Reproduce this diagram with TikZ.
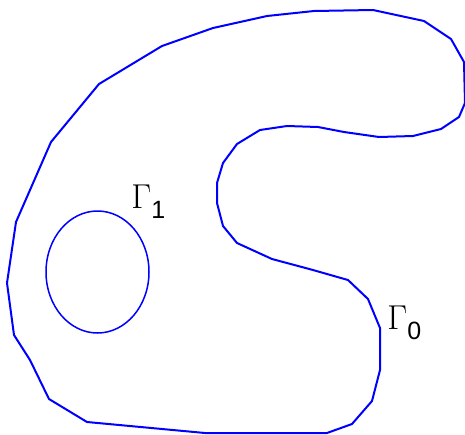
\documentclass[tikz,border=0pt]{standalone}
\usepackage{fontspec}
\setsansfont{Liberation Sans}
\usetikzlibrary{positioning}
\definecolor{bdblue}{HTML}{0000FF}
\newcommand{\sublabel}[1]{\raisebox{-5pt}{\fontsize{12.5}{14}\selectfont\sffamily #1}}
\tikzset{
  boundary/.style={draw=bdblue, line width=1pt, line join=miter},
  hole/.style={draw=bdblue, line width=0.75pt},
  curvelabel/.style={font=\fontsize{16.5}{20}\selectfont, inner sep=0pt, anchor=base west},
}

\begin{document}
\begin{tikzpicture}[x=0.5pt, y=-0.5pt]
    \useasboundingbox (0,0) rectangle (465,434);
    % outer boundary
    \draw[boundary] (267,16) -- (314,11) -- (373,10) -- (424,21) -- (451,39)
      -- (464,62) -- (465,103) -- (459,117) -- (441,129) -- (413,136)
      -- (379,137) -- (344,132) -- (318,127) -- (287,126) -- (260,130)
      -- (237,144) -- (223,163) -- (217,183) -- (217,203) -- (223,226)
      -- (237,243) -- (272,259) -- (313,270) -- (348,280) -- (368,299)
      -- (380,328) -- (380,370) -- (372,401) -- (352,424) -- (327,433)
      -- (205,433) -- (87,422) -- (49,399) -- (30,360) -- (14,335)
      -- (7,283) -- (16,222) -- (51,142) -- (99,84) -- (162,46)
      -- (213,28) -- cycle;
    % inner boundary
    \draw[hole] (97.5,272) ellipse [x radius=51.5, y radius=61];
    \node[curvelabel] (gammaone) at (131,208) {$\Gamma$\sublabel{1}};
    \node[curvelabel] (gammazero) at (387,329) {$\Gamma$\sublabel{0}};
\end{tikzpicture}
\end{document}
